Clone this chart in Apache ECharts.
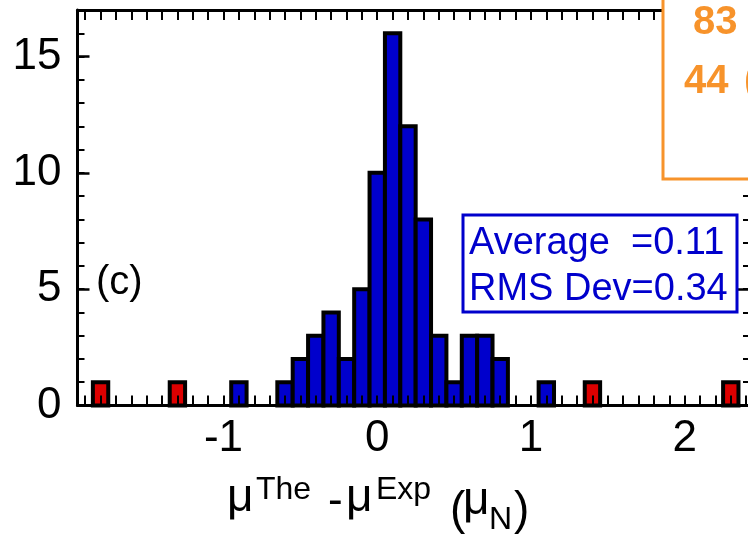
<!DOCTYPE html>
<html><head><meta charset="utf-8">
<script src="https://cdn.jsdelivr.net/npm/echarts@6/dist/echarts.min.js"></script>
<style>html,body{margin:0;padding:0;background:#fff}#c{width:748px;height:540px}</style>
</head><body><div id="c"></div>
<script>
// ---- data ----
const blueCenters = [-0.9, -0.6, -0.5, -0.4, -0.3, -0.2, -0.1, 0.0, 0.1, 0.2, 0.3, 0.4, 0.5, 0.6, 0.7, 0.8, 1.1];
const blueCounts  = [1, 1, 2, 3, 4, 2, 5, 10, 16, 12, 8, 3, 1, 3, 3, 2, 1];
const redCenters  = [-1.8, -1.3, 1.4, 2.3];
const redCounts   = [1, 1, 1, 1];
const binWidth = 0.1;
const xRange = [-1.95, 2.425];
const yRange = [0, 17];
const xTickLabels = [-1, 0, 1, 2];
const yTickLabels = [0, 5, 10, 15];
const statsLines = ['Average  =0.11', 'RMS Dev=0.34'];
const panelLabel = '(c)';
const insetLines = ['83', '44', '('];

// minor tick positions
const xMinorTicks = [];
for (let k = -19; k <= 24; k++) xMinorTicks.push(k / 10);
const yMinorTicks = [];
for (let k = 0; k <= 17; k++) yMinorTicks.push(k);

const FONT = '"Liberation Sans", Arial, sans-serif';
const BLUE = '#0000cc', RED = '#dd0000', ORANGE = '#f7932b';

function barItem(color) {
  return function (params, api) {
    const c = api.value(0), h = api.value(1);
    const a = api.coord([c - binWidth / 2, h]);
    const b = api.coord([c + binWidth / 2, 0]);
    return {
      type: 'rect',
      shape: { x: a[0], y: a[1], width: b[0] - a[0], height: b[1] - a[1] },
      style: { fill: color, stroke: '#000', lineWidth: 4 }
    };
  };
}

const lineStyle = { color: '#000', width: 3 };
const tickStyle = { color: '#000', width: 2 };

function txt(text, x, y, size, opts) {
  opts = opts || {};
  return {
    type: 'text', x: x, y: y, z: opts.z || 50,
    style: {
      text: text, font: (opts.bold ? 'bold ' : '') + size + 'px ' + FONT,
      fill: opts.color || '#000',
      textAlign: 'left', align: 'left',
      textVerticalAlign: 'middle', verticalAlign: 'middle'
    }
  };
}

const chart = echarts.init(document.getElementById('c'), null, { renderer: 'canvas' });
const gridBox = { left: 77.5, right: -2, top: 10, bottom: 134.5, outerBoundsMode: 'none' };
chart.setOption({
  animation: false,
  backgroundColor: '#fff',
  grid: [Object.assign({}, gridBox), Object.assign({}, gridBox)],
  xAxis: [
    { gridIndex: 0, type: 'value', position: 'bottom', min: xRange[0], max: xRange[1], z: 10,
      axisLine: { show: true, onZero: false, lineStyle: lineStyle },
      axisTick: { show: true, inside: true, length: 10, lineStyle: tickStyle, customValues: xMinorTicks },
      axisLabel: { show: true, customValues: xTickLabels, margin: 11, fontSize: 44, fontFamily: FONT, color: '#000',
                   formatter: v => String(v) },
      splitLine: { show: false } },
    { gridIndex: 0, type: 'value', position: 'top', min: xRange[0], max: xRange[1], z: 10,
      axisLine: { show: true, onZero: false, lineStyle: lineStyle },
      axisTick: { show: true, inside: true, length: 10, lineStyle: tickStyle, customValues: xMinorTicks },
      axisLabel: { show: false }, splitLine: { show: false } },
    { gridIndex: 1, type: 'value', position: 'bottom', min: xRange[0], max: xRange[1], show: false,
      axisLine: { show: false, onZero: false } }
  ],
  yAxis: [
    { gridIndex: 0, type: 'value', position: 'left', min: yRange[0], max: yRange[1], z: 10,
      axisLine: { show: true, onZero: false, lineStyle: lineStyle },
      axisTick: { show: true, inside: true, length: 7, lineStyle: tickStyle, customValues: yMinorTicks },
      axisLabel: { show: true, customValues: yTickLabels, margin: 16, fontSize: 44, fontFamily: FONT, color: '#000',
                   padding: [0, 0, 6, 0], formatter: v => String(v) },
      splitLine: { show: false } },
    { gridIndex: 0, type: 'value', position: 'right', min: yRange[0], max: yRange[1], z: 10,
      axisLine: { show: true, onZero: false, lineStyle: lineStyle },
      axisTick: { show: true, inside: true, length: 7, lineStyle: tickStyle, customValues: yMinorTicks },
      axisLabel: { show: false }, splitLine: { show: false } },
    { gridIndex: 1, type: 'value', position: 'left', min: yRange[0], max: yRange[1], z: 10,
      axisLine: { show: false, onZero: false },
      axisTick: { show: true, inside: true, length: 12, lineStyle: { color: '#000', width: 2.5 }, customValues: yTickLabels },
      axisLabel: { show: false }, splitLine: { show: false } },
    { gridIndex: 1, type: 'value', position: 'right', min: yRange[0], max: yRange[1], z: 10,
      axisLine: { show: false, onZero: false },
      axisTick: { show: true, inside: true, length: 12, lineStyle: { color: '#000', width: 2.5 }, customValues: yTickLabels },
      axisLabel: { show: false }, splitLine: { show: false } }
  ],
  series: [
    { type: 'custom', xAxisIndex: 0, yAxisIndex: 0, z: 2, renderItem: barItem(BLUE),
      data: blueCenters.map((c, i) => [c, blueCounts[i]]) },
    { type: 'custom', xAxisIndex: 0, yAxisIndex: 0, z: 2, renderItem: barItem(RED),
      data: redCenters.map((c, i) => [c, redCounts[i]]) }
  ],
  graphic: [
    // inset panel (neighbouring figure) at top right
    { type: 'rect', z: 100, shape: { x: 663, y: -10, width: 120, height: 189 },
      style: { fill: '#fff', stroke: ORANGE, lineWidth: 3 } },
    txt(insetLines[0], 693, 23, 40, { bold: true, color: ORANGE, z: 101 }),
    txt(insetLines[1], 684, 82, 40, { bold: true, color: ORANGE, z: 101 }),
    txt(insetLines[2], 744, 82, 40, { bold: true, color: ORANGE, z: 101 }),
    // stats box
    { type: 'rect', z: 40, shape: { x: 463, y: 215, width: 274, height: 97 },
      style: { fill: '#fff', stroke: BLUE, lineWidth: 3 } },
    txt(statsLines[0], 469, 244, 38, { color: BLUE }),
    txt(statsLines[1], 469, 290, 38, { color: BLUE }),
    // panel label
    txt(panelLabel, 96, 283, 40),
    // axis title: mu^The - mu^Exp (mu_N)
    txt('\u03bc', 227, 498, 46),
    txt('The', 256, 490, 32),
    txt('-', 328, 502, 44),
    txt('\u03bc', 346, 498, 46),
    txt('Exp', 376, 490, 32),
    txt('(', 450, 511, 46),
    txt('\u03bc', 463, 501, 46),
    txt('N', 489, 520, 32),
    txt(')', 514, 511, 46)
  ]
});
</script>
</body></html>
